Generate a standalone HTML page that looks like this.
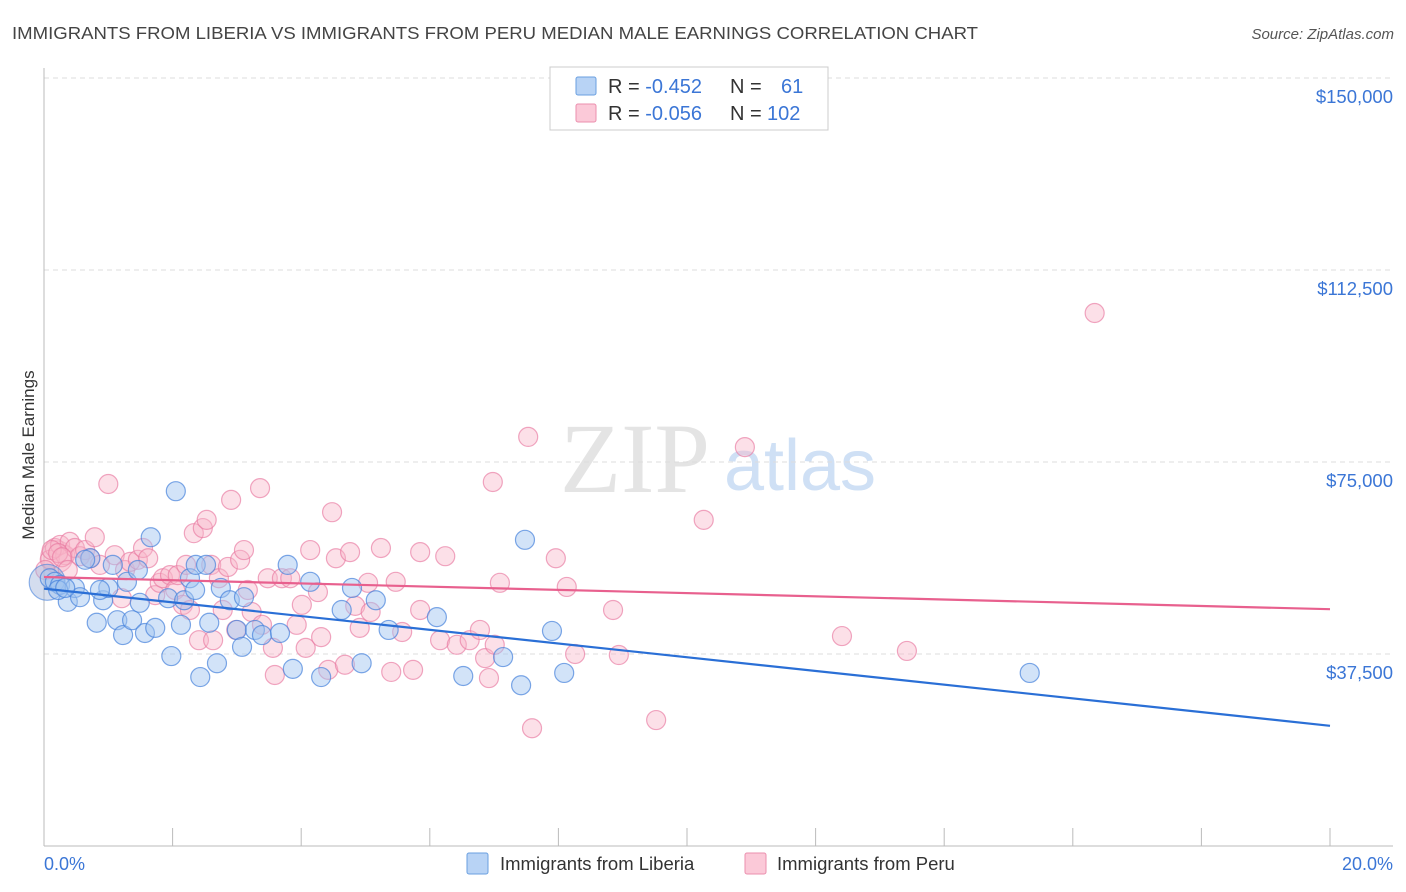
<!DOCTYPE html>
<html><head><meta charset="utf-8"><style>
body{margin:0;background:#fff;font-family:"Liberation Sans",sans-serif;}
#wrap{position:relative;width:1406px;height:892px;overflow:hidden}
</style></head><body>
<div id="wrap">
<svg id="svg" width="1406" height="892" xmlns="http://www.w3.org/2000/svg">
<text x="12" y="39" font-size="17.5" fill="#444" textLength="966" lengthAdjust="spacingAndGlyphs">IMMIGRANTS FROM LIBERIA VS IMMIGRANTS FROM PERU MEDIAN MALE EARNINGS CORRELATION CHART</text>
<text x="1394" y="39" font-size="15" fill="#555" font-style="italic" text-anchor="end">Source: ZipAtlas.com</text>
<text x="635" y="492" font-size="100" fill="#e4e4e4" font-family="Liberation Serif,serif" text-anchor="middle">ZIP</text>
<text x="800" y="490" font-size="72" fill="#cfe0f5" text-anchor="middle">atlas</text>
<text transform="translate(34,455) rotate(-90)" font-size="17" fill="#333" text-anchor="middle">Median Male Earnings</text>
<g id="grid"></g><g id="pts"></g><g id="lines"></g>
<g>
<rect x="550" y="67" width="278" height="63" fill="#fff" stroke="#ccc"/>
<rect x="576" y="77" width="20" height="18" fill="#b8d3f5" stroke="#6a9fe0" rx="2"/>
<rect x="576" y="104" width="20" height="18" fill="#fbc9d8" stroke="#eb8fae" rx="2"/>
<text x="608" y="93" font-size="20" fill="#333">R = <tspan fill="#3b76d6">-0.452</tspan><tspan x="730">N =</tspan><tspan x="781" fill="#3b76d6">61</tspan></text>
<text x="608" y="120" font-size="20" fill="#333">R = <tspan fill="#3b76d6">-0.056</tspan><tspan x="730">N =</tspan><tspan x="767" fill="#3b76d6">102</tspan></text>
</g>
<text x="44" y="870" font-size="18" fill="#3b76d6">0.0%</text>
<text x="1393" y="870" font-size="18" fill="#3b76d6" text-anchor="end">20.0%</text>
<g>
<rect x="467" y="853" width="21" height="21" fill="#b8d3f5" stroke="#6a9fe0" rx="2"/>
<text x="500" y="870" font-size="18.5" fill="#333">Immigrants from Liberia</text>
<rect x="745" y="853" width="21" height="21" fill="#fbc9d8" stroke="#eb8fae" rx="2"/>
<text x="777" y="870" font-size="18.5" fill="#333">Immigrants from Peru</text>
</g>
</svg></div>
<script>
const yTicks=[37500,75000,112500,150000];
const yTickLabels=["$37,500","$75,000","$112,500","$150,000"];
const blueX=[.09,.17,.25,.37,.48,.56,.72,.82,.92,1.00,1.07,1.14,1.23,1.29,1.37,1.46,1.49,1.57,1.66,1.73,1.93,1.98,2.05,2.13,2.18,2.27,2.36,2.43,2.52,2.57,2.69,2.75,2.89,3.00,3.08,3.11,3.28,3.39,3.67,3.79,3.87,4.14,4.31,4.63,4.79,4.94,5.16,5.36,6.11,6.52,7.14,7.42,7.48,7.90,8.09,15.33,.22,.33,.87,.64,2.35];
const blueY=[52.3,51.6,51.0,47.7,50.4,48.6,56.2,43.6,48.0,50.4,54.9,44.1,41.2,51.6,44.1,53.9,47.5,41.6,60.3,42.6,48.4,37.1,69.3,43.2,48.0,52.3,54.9,33.0,54.9,43.6,35.7,50.4,48.0,42.2,38.9,48.6,42.2,41.2,41.6,54.9,34.6,51.6,33.0,46.1,50.4,35.7,48.0,42.2,44.7,33.2,36.9,31.4,59.8,42.0,33.8,33.8,50.0,50.4,50.0,55.9,50.0];
const pinkX=[.09,.17,.25,.33,.40,.48,.56,.64,.72,.79,.87,1.00,1.10,1.21,1.26,1.34,1.46,1.54,1.62,1.73,1.80,1.85,1.96,2.04,2.08,2.16,2.21,2.27,2.33,2.41,2.47,2.53,2.60,2.63,2.72,2.78,2.86,2.91,2.99,3.05,3.11,3.17,3.23,3.36,3.39,3.48,3.56,3.59,3.70,3.83,3.93,4.01,4.07,4.14,4.26,4.31,4.42,4.48,4.54,4.68,4.76,4.84,4.91,5.04,5.08,5.24,5.47,5.40,5.57,5.74,5.85,5.85,6.16,6.24,6.42,6.62,6.78,6.86,6.92,6.98,7.01,7.09,7.53,7.59,7.96,8.13,8.26,8.85,8.94,9.52,10.26,10.90,12.41,13.42,16.34,.12,.22,.28,.37,.02];
const pinkY=[55.9,58.2,58.8,56.8,59.4,58.2,56.6,57.8,56.2,60.3,54.9,70.7,56.8,48.4,53.9,55.5,55.9,58.2,56.2,49.0,51.4,52.3,52.9,50.0,52.9,47.1,54.9,46.1,61.1,40.2,62.1,63.7,54.9,40.2,52.3,46.1,54.5,67.6,42.2,55.9,57.8,50.0,45.7,69.9,43.2,52.3,38.7,33.4,52.3,52.3,43.2,47.1,38.7,57.8,49.6,40.8,34.4,65.2,56.2,35.4,57.4,46.9,42.6,51.4,45.7,58.2,51.6,34.0,41.8,34.4,57.4,46.1,40.2,56.6,39.3,40.2,42.2,36.7,32.8,71.1,39.3,51.4,79.9,23.0,56.2,50.6,37.5,46.1,37.3,24.6,63.7,77.9,41.0,38.1,104.1,57.8,57.2,56.4,53.9,53.9];
const bigBlueX=[0.05];
const bigBlueY=[51.5];
const bigPinkX=[0.2];
const bigPinkY=[56.5];
const NS="http://www.w3.org/2000/svg";
function xs(p){return 44+p*64.3;}
function ys(k){return 846-k*1000/37500*192;}
function mk(t,a,par){const e=document.createElementNS(NS,t);for(const k in a)e.setAttribute(k,a[k]);par.appendChild(e);return e;}
const grid=document.getElementById('grid');
yTicks.forEach((v,i)=>{const y=ys(v/1000);
 const l=mk('line',{x1:44,x2:1393,y1:y,y2:y,stroke:'#ddd','stroke-dasharray':'5,4'},grid);
 
 
 const t=mk('text',{x:1393,y:y+25,'font-size':18.5,fill:'#3b76d6','text-anchor':'end'},grid);
 t.textContent=yTickLabels[i];
 
 
});
const ax=mk('line',{x1:44,x2:44,y1:68,y2:846,stroke:'#bbb'},grid);


const bx=mk('line',{x1:44,x2:1393,y1:846,y2:846,stroke:'#bbb'},grid);


for(let i=0;i<=10;i++){const x=xs(i*2);const t=mk('line',{x1:x,x2:x,y1:828,y2:846,stroke:'#bbb'},grid);
 
 }
const pts=document.getElementById('pts');
function drawPts(X,Y,r,fill,stroke,name){X.forEach((x,i)=>{const c=mk('circle',{cx:xs(x),cy:ys(Y[i]),r:r,fill:fill,stroke:stroke,'stroke-width':1.2},pts);
 
 });}
drawPts(bigPinkX,bigPinkY,16,'rgba(248,180,200,0.4)','rgba(232,120,160,0.6)','peru-point-large');
drawPts(pinkX,pinkY,9.5,'rgba(248,180,200,0.42)','rgba(232,120,160,0.65)','peru-point');
drawPts(bigBlueX,bigBlueY,18,'rgba(160,180,220,0.45)','rgba(70,130,220,0.6)','liberia-point-large');
drawPts(blueX,blueY,9.5,'rgba(160,196,240,0.48)','rgba(70,130,220,0.7)','liberia-point');
function fit(X,Y){const n=X.length;let sx=0,sy=0,sxx=0,sxy=0;for(let i=0;i<n;i++){sx+=X[i];sy+=Y[i];sxx+=X[i]*X[i];sxy+=X[i]*Y[i];}
 const b=(n*sxy-sx*sy)/(n*sxx-sx*sx);return [(sy-b*sx)/n,b];}
const lines=document.getElementById('lines');
[[blueX,blueY,'#2a6fd6','liberia-trend-line'],[pinkX,pinkY,'#e8608e','peru-trend-line']].forEach(s=>{const [a,b]=fit(s[0],s[1]);
 const l=mk('line',{x1:xs(0),y1:ys(a),x2:xs(20),y2:ys(a+b*20),stroke:s[2],'stroke-width':2.2},lines);
 
 });
</script>
</body></html>
